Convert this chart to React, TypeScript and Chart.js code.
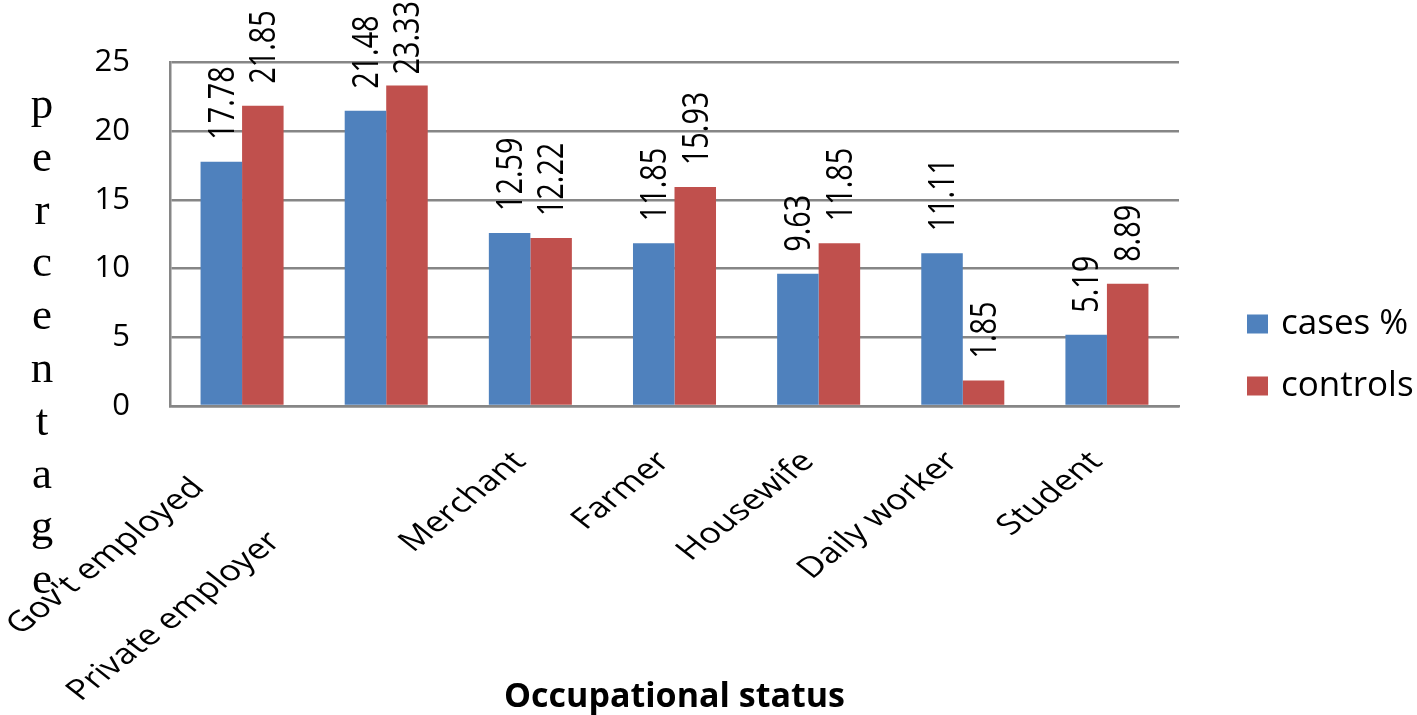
import React, { useEffect, useRef } from 'react';
import { Chart, registerables } from 'chart.js';

Chart.register(...registerables);

const categories = ["Gov't employed", 'Private employer', 'Merchant', 'Farmer', 'Housewife', 'Daily worker', 'Student'];
const casesPct = [17.78, 21.48, 12.59, 11.85, 9.63, 11.11, 5.19];
const controlsPct = [21.85, 23.33, 12.22, 15.93, 11.85, 1.85, 8.89];
const seriesNames = ['cases %', 'controls'];
const seriesColors = ['#4F81BD', '#C0504D'];
const yMin = 0;
const yMax = 25;
const yStep = 5;
const yTitle = 'percentage';
const xTitle = 'Occupational status';

const AXIS = '#868686';
const SANS = "'Open Sans', 'Noto Sans', sans-serif";
const SQUISH = 0.79;

const overlay = {
  id: 'overlay',
  afterDatasetsDraw(chart: any) {
    const ctx = chart.ctx;
    ctx.save();
    ctx.fillStyle = '#000';
    ctx.font = `36px ${SANS}`;
    const ls = 0.8;
    chart.data.datasets.forEach((ds: any, di: number) => {
      const meta = chart.getDatasetMeta(di);
      meta.data.forEach((bar: any, i: number) => {
        const txt = ds.data[i].toFixed(2);
        const len = ctx.measureText(txt).width * ls;
        const y0 = Math.max(bar.y - 22, len + 1);
        ctx.save();
        ctx.translate(bar.x + 2, y0);
        ctx.scale(1, ls);
        ctx.rotate(-Math.PI / 2);
        ctx.textAlign = 'left';
        ctx.textBaseline = 'middle';
        ctx.fillText(txt, 0, 0);
        ctx.restore();
      });
    });
    ctx.restore();
  },
  afterDraw(chart: any) {
    const ctx = chart.ctx;
    const xs = chart.scales.x;
    const area = chart.chartArea;
    ctx.save();
    ctx.fillStyle = '#000';

    // x category labels, slanted
    const backShift = [47, 143, 0, 0, 0, 0, 0];
    ctx.font = `36px ${SANS}`;
    categories.forEach((lab, i) => {
      const cx = xs.getPixelForValue(i);
      ctx.save();
      ctx.translate(cx - 23, area.bottom + 41);
      ctx.scale(1, SQUISH);
      ctx.rotate(-Math.PI / 4);
      ctx.textAlign = 'right';
      ctx.textBaseline = 'top';
      ctx.fillText(lab, -backShift[i], 0);
      ctx.restore();
    });

    // y title: stacked letters
    ctx.font = `45px 'Liberation Serif', 'DejaVu Serif', serif`;
    ctx.textAlign = 'center';
    ctx.textBaseline = 'alphabetic';
    yTitle.split('').forEach((ch, i) => {
      ctx.fillText(ch, 42, 118 + i * 52.8);
    });

    // x title
    ctx.font = `bold 34px ${SANS}`;
    ctx.textAlign = 'center';
    ctx.textBaseline = 'middle';
    ctx.fillText(xTitle, (area.left + area.right) / 2, 697);

    // legend
    ctx.font = `35px ${SANS}`;
    ctx.textAlign = 'left';
    ctx.textBaseline = 'middle';
    seriesNames.forEach((name, i) => {
      const cy = 324 + i * 62;
      ctx.fillStyle = seriesColors[i];
      ctx.fillRect(1247, cy - 9.5, 21, 19);
      ctx.fillStyle = '#000';
      ctx.fillText(name, 1281, cy);
    });
    ctx.restore();
  },
};

export default function App() {
  const ref = useRef<HTMLCanvasElement>(null);
  useEffect(() => {
    document.body.style.margin = '0';
    const chart = new Chart(ref.current as HTMLCanvasElement, {
      type: 'bar',
      data: {
        labels: categories,
        datasets: [
          { label: seriesNames[0], data: casesPct, backgroundColor: seriesColors[0], categoryPercentage: 0.576, barPercentage: 1 },
          { label: seriesNames[1], data: controlsPct, backgroundColor: seriesColors[1], categoryPercentage: 0.576, barPercentage: 1 },
        ],
      },
      options: {
        responsive: false,
        animation: false,
        layout: { padding: { top: 62.5, right: 238, left: 0, bottom: 0 } },
        plugins: { legend: { display: false }, tooltip: { enabled: false } },
        scales: {
          x: {
            grid: { display: false },
            border: { display: true, color: AXIS, width: 2.5 },
            ticks: { display: false },
            afterFit: (s: any) => { s.height = 309; },
          },
          y: {
            min: yMin,
            max: yMax,
            ticks: { stepSize: yStep, padding: 40, color: '#000', font: { family: SANS, size: 31 } },
            grid: { color: AXIS, lineWidth: 2.5, drawTicks: false },
            border: { display: true, color: AXIS, width: 2.5 },
            afterFit: (s: any) => { s.width = 170; },
          },
        },
      },
      plugins: [overlay],
    } as any);
    return () => chart.destroy();
  }, []);
  return (
    <div style={{ position: 'fixed', left: 0, top: 0, width: 1417, height: 715, background: '#fff' }}>
      <canvas ref={ref} width={1417} height={715} />
    </div>
  );
}
